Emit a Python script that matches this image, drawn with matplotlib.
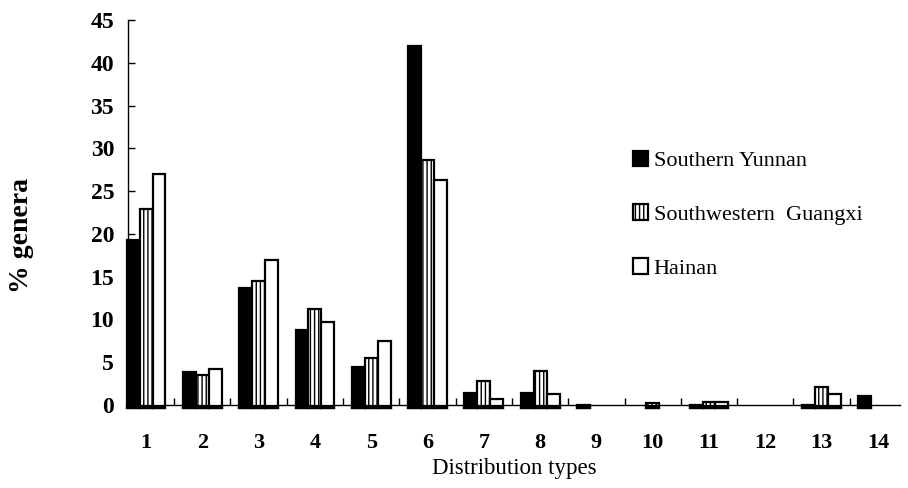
import numpy as np
import matplotlib.pyplot as plt

plt.rcParams['font.family'] = ['Liberation Serif', 'DejaVu Serif']
plt.rcParams['hatch.linewidth'] = 1.0

types = np.arange(1, 15)
yunnan = [19.7, 4.3, 14.1, 9.2, 4.8, 42.4, 1.8, 1.8, 0.4, 0, 0.4, 0, 0.4, 1.5]
guangxi = [23.3, 3.9, 14.9, 11.6, 5.9, 29.0, 3.2, 4.4, 0, 0.6, 0.7, 0, 2.5, 0]
hainan = [27.4, 4.6, 17.4, 10.1, 7.9, 26.7, 1.1, 1.7, 0, 0, 0.7, 0, 1.7, 0]
labels = ['Southern Yunnan', 'Southwestern  Guangxi', 'Hainan']

fig = plt.figure(figsize=(9.08, 4.88), dpi=100)
ax = fig.add_axes([0.141, 0.170, 0.850, 0.789])

w = 0.23
series = [(yunnan, 'black', '', -w), (guangxi, 'white', '||||', 0), (hainan, 'white', '', w)]
for (vals, fc, hatch, off), lab in zip(series, labels):
    vals = np.array(vals, dtype=float)
    keep = vals > 0
    ax.bar(types[keep] + off, vals[keep], width=w, bottom=-0.4, color=fc, edgecolor='black',
           hatch=hatch, linewidth=1.6, label=lab, clip_on=False, zorder=3)
    # thick black base under each group
    ax.bar(types[keep] + off, 0.25, width=w, bottom=-0.4, color='black', edgecolor='black',
           linewidth=1.6, clip_on=False, zorder=4)

ax.set_xlim(0.68, 14.39)
ax.set_ylim(0, 45)
ax.set_yticks(range(0, 46, 5))
ax.set_xticks(types)
ax.set_xticks(np.arange(1.5, 14, 1), minor=True)
ax.tick_params(axis='x', which='major', length=0, pad=20, labelsize=16)
ax.tick_params(axis='x', which='minor', direction='in', length=5, width=1)
ax.tick_params(axis='y', direction='in', length=5, width=1, pad=10, labelsize=17)
for t in ax.get_yticklabels() + ax.get_xticklabels():
    t.set_fontweight('bold')

ax.spines['top'].set_visible(False)
ax.spines['right'].set_visible(False)
ax.spines['left'].set_linewidth(1)
ax.spines['bottom'].set_linewidth(1)

ax.set_xlabel('Distribution types', fontsize=16.5, labelpad=4)
ax.set_ylabel('% genera', fontsize=20, fontweight='bold')
ax.yaxis.set_label_coords(-0.122, 0.44)

leg = ax.legend(loc='upper left', bbox_to_anchor=(0.628, 0.713), frameon=False, fontsize=16,
                labelspacing=1.5, handlelength=0.7, handleheight=0.7, handletextpad=0.25)

fig.savefig('out.png', dpi=100)
